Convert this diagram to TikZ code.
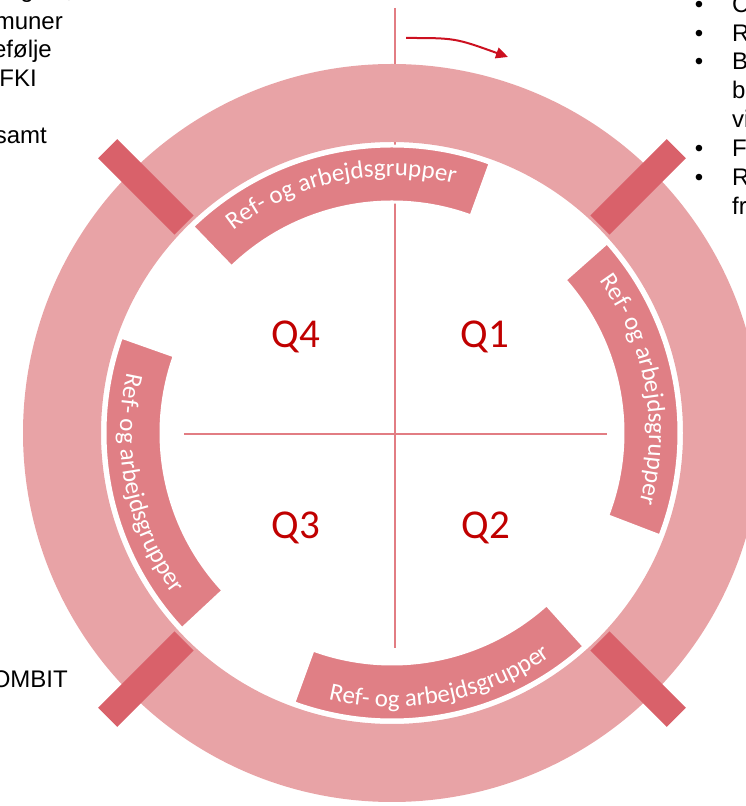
\documentclass[tikz,border=0pt]{standalone}
\usepackage{fontspec}
\setmainfont{Liberation Sans}
\newfontfamily\carlito{Carlito}
\newcommand\arcfont{\carlito\fontsize{25}{25}\selectfont}
\usetikzlibrary{arrows.meta,decorations.text}
\definecolor{ringc}{RGB}{232,163,166}
\definecolor{arcc}{RGB}{224,127,133}
\definecolor{barc}{RGB}{217,97,106}
\definecolor{linec}{RGB}{226,125,131}
\definecolor{qred}{RGB}{192,0,0}
\definecolor{arrowc}{RGB}{204,16,32}
\tikzset{
  ringfill/.style={fill=ringc, even odd rule},
  bandarc/.style={fill=arcc, draw=white, line width=3pt},
  barshape/.style={fill=barc},
  crossline/.style={draw=linec, line width=2pt},
  qlab/.style={font=\carlito\fontsize{41}{41}\selectfont, text=qred, inner sep=0pt},
  sidetext/.style={font=\fontsize{24}{24}\selectfont, text=black, inner sep=0pt},
  bandtext/.style={decorate, decoration={text along path, text align=center, text color=white, text={|\arcfont|Ref- og arbejdsgrupper}}},
  turnarrow/.style={draw=arrowc, line width=2pt, -{Triangle[length=12pt,width=11pt]}},
}
\begin{document}
\begin{tikzpicture}[x=1pt,y=1pt]
\useasboundingbox (0,0) rectangle (746,806);
\coordinate (C) at (392,373);
% cross lines
\coordinate (vt) at (395,798);
\coordinate (vb) at (395,158);
\coordinate (hl) at (184,372);
\coordinate (hr) at (607,372);
\draw[crossline] (vt) -- (vb);
\draw[crossline] (hl) -- (hr);
% outer ring
\path[ringfill] (C) circle[radius=369] (C) circle[radius=291];
% bars
\foreach \a in {45,135,225,315}{
  \begin{scope}[shift={(C)}, rotate=\a]
    \path[barshape] (294,-13.5) rectangle (402,13.5);
  \end{scope}
}
% inner band arcs
\begin{scope}[shift={(C)}]
  \path[bandarc] (70:287) arc[start angle=70,end angle=134,radius=287] -- (134:231) arc[start angle=134,end angle=70,radius=231] -- cycle;
  \path[bandarc] (-21:287) arc[start angle=-21,end angle=41.5,radius=287] -- (41.5:231) arc[start angle=41.5,end angle=-21,radius=231] -- cycle;
  \path[bandarc] (250:287) arc[start angle=250,end angle=312,radius=287] -- (312:231) arc[start angle=312,end angle=250,radius=231] -- cycle;
  \path[bandarc] (160.5:287) arc[start angle=160.5,end angle=223,radius=287] -- (223:231) arc[start angle=223,end angle=160.5,radius=231] -- cycle;
  % texts along bands
  \path[bandtext] (134:257) arc[start angle=134,end angle=70,radius=257];
  \path[bandtext] (41.5:257) arc[start angle=41.5,end angle=-21,radius=257];
  \path[bandtext] (250:274) arc[start angle=250,end angle=312,radius=274];
  \path[bandtext] (160.5:272) arc[start angle=160.5,end angle=223,radius=272];
\end{scope}
% quarter labels
\node[qlab, anchor=base] (q4) at (296,458) {Q4};
\node[qlab, anchor=base] (q1) at (485,458) {Q1};
\node[qlab, anchor=base] (q3) at (296,267) {Q3};
\node[qlab, anchor=base] (q2) at (486,267) {Q2};
% arrow
\coordinate (a1) at (406,768);
\coordinate (a2) at (508,749);
\draw[turnarrow] (a1) .. controls (455,768) .. (a2);
% left column (cut off)
\node[sidetext, anchor=base east] (l0) at (34,808) {g};
\node[sidetext, anchor=base east] (l0b) at (73,808) {,};
\node[sidetext, anchor=base east] (l1) at (63,776.5) {muner};
\node[sidetext, anchor=base east] (l2) at (52,748) {efølje};
\node[sidetext, anchor=base east] (l3) at (37,719.5) {FKI};
\node[sidetext, anchor=base east] (l4) at (47,662.5) {samt};
\node[sidetext, anchor=base east] (l5) at (68,118) {OMBIT};
% right column (cut off)
\foreach \yy/\nm in {793/b1,764/b2,736/b3,649/b4,620/b5}{
  \node[sidetext, anchor=base] (\nm) at (699,\yy) {•};
}
\node[sidetext, anchor=base west] (r1) at (732,793) {C};
\node[sidetext, anchor=base west] (r2) at (732,764) {R};
\node[sidetext, anchor=base west] (r3) at (732,736) {B};
\node[sidetext, anchor=base west] (r4) at (732,707) {b};
\node[sidetext, anchor=base west] (r5) at (732,678) {vi};
\node[sidetext, anchor=base west] (r6) at (732,649) {F};
\node[sidetext, anchor=base west] (r7) at (732,620) {R};
\node[sidetext, anchor=base west] (r8) at (732,591) {fr};
\end{tikzpicture}
\end{document}
